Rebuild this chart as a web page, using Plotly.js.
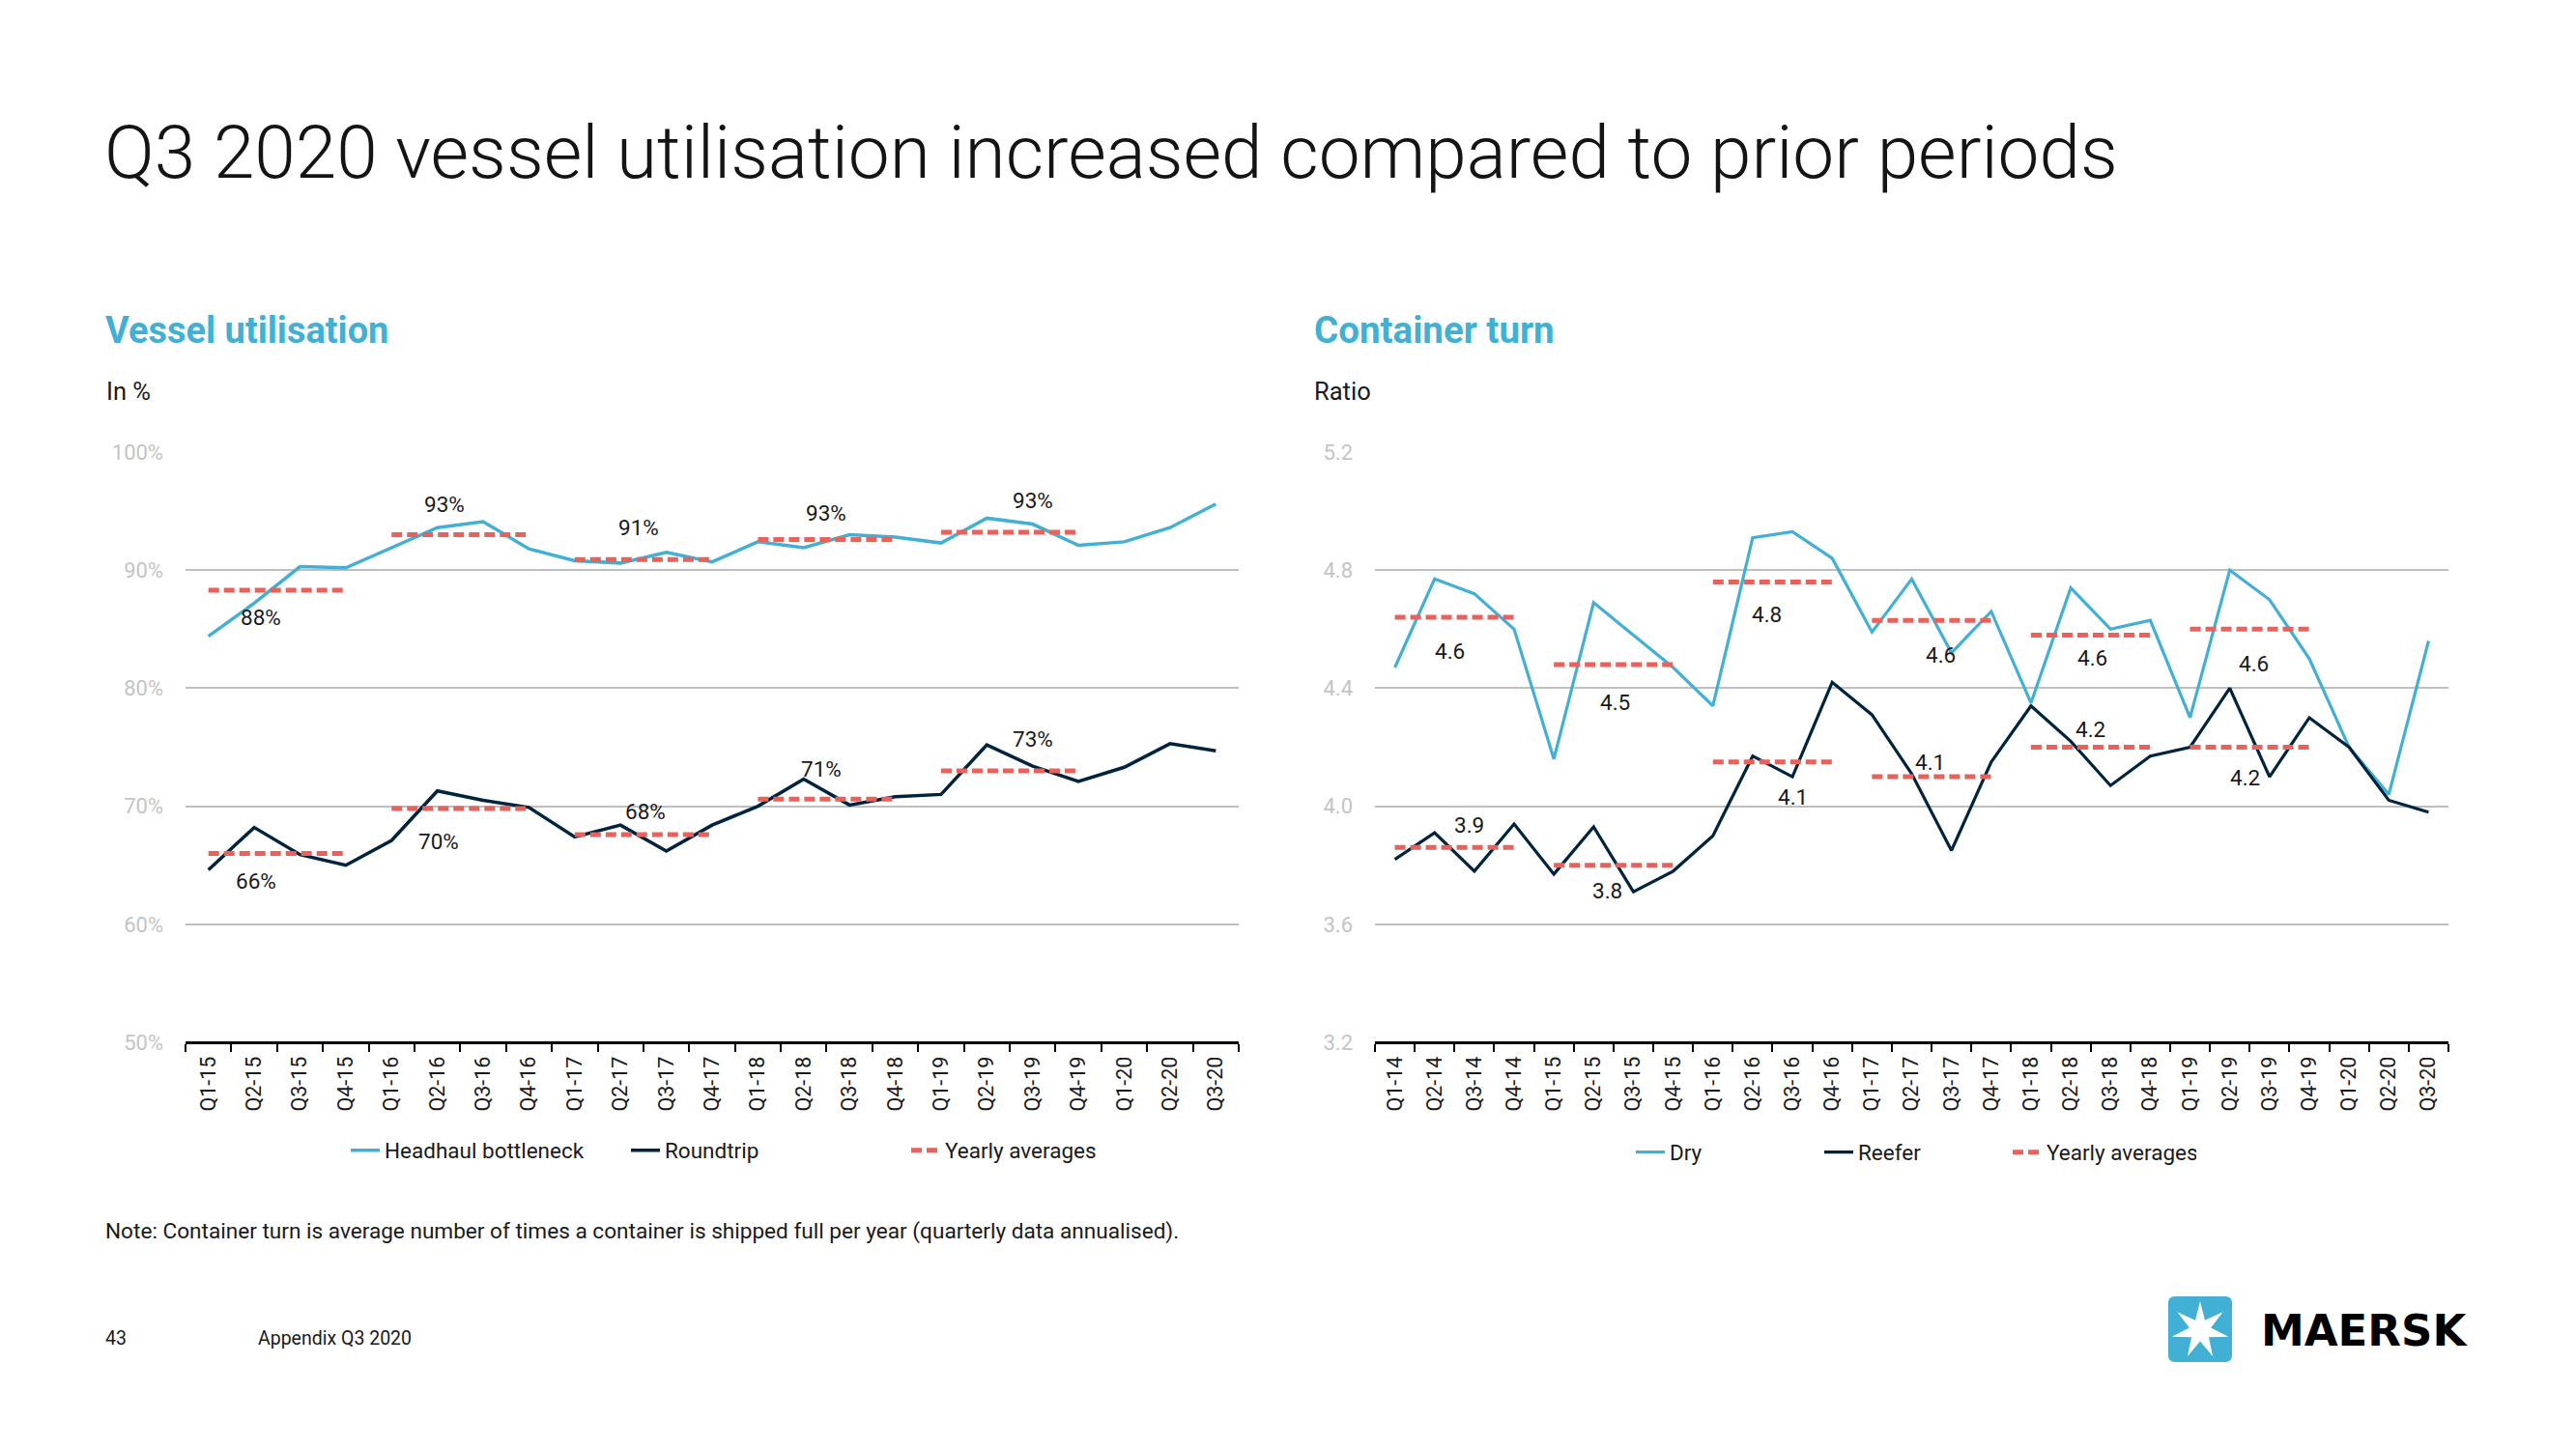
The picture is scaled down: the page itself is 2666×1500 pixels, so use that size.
<!DOCTYPE html>
<html>
<head>
<meta charset="utf-8">
<script src="https://cdn.plot.ly/plotly-3.0.1.min.js"></script>
<style>
html,body{margin:0;padding:0;background:#ffffff;}
#chart{width:2666px;height:1500px;}
</style>
</head>
<body>
<div id="chart"></div>
<script>
// ---------- DATA ----------
const vuQuarters = ['Q1-15','Q2-15','Q3-15','Q4-15','Q1-16','Q2-16','Q3-16','Q4-16','Q1-17','Q2-17','Q3-17','Q4-17','Q1-18','Q2-18','Q3-18','Q4-18','Q1-19','Q2-19','Q3-19','Q4-19','Q1-20','Q2-20','Q3-20'];
const headhaul = [84.4, 87.2, 90.3, 90.2, 91.9, 93.6, 94.1, 91.8, 90.8, 90.6, 91.5, 90.7, 92.4, 91.9, 93.0, 92.8, 92.3, 94.4, 93.9, 92.1, 92.4, 93.6, 95.6];
const roundtrip = [64.6, 68.2, 65.9, 65.0, 67.1, 71.3, 70.5, 69.9, 67.4, 68.4, 66.2, 68.4, 70.0, 72.3, 70.1, 70.8, 71.0, 75.2, 73.4, 72.1, 73.3, 75.3, 74.7];
const vuYears = ['15','16','17','18','19'];
const headhaulAvg = [88.3, 93.0, 90.9, 92.6, 93.2];
const roundtripAvg = [66.0, 69.8, 67.6, 70.6, 73.0];
const headhaulAvgLabels = ['88%','93%','91%','93%','93%'];
const roundtripAvgLabels = ['66%','70%','68%','71%','73%'];

const ctQuarters = ['Q1-14','Q2-14','Q3-14','Q4-14','Q1-15','Q2-15','Q3-15','Q4-15','Q1-16','Q2-16','Q3-16','Q4-16','Q1-17','Q2-17','Q3-17','Q4-17','Q1-18','Q2-18','Q3-18','Q4-18','Q1-19','Q2-19','Q3-19','Q4-19','Q1-20','Q2-20','Q3-20'];
const dry = [4.47, 4.77, 4.72, 4.60, 4.16, 4.69, 4.58, 4.47, 4.34, 4.91, 4.93, 4.84, 4.59, 4.77, 4.52, 4.66, 4.35, 4.74, 4.60, 4.63, 4.30, 4.80, 4.70, 4.50, 4.20, 4.04, 4.56];
const reefer = [3.82, 3.91, 3.78, 3.94, 3.77, 3.93, 3.71, 3.78, 3.90, 4.17, 4.10, 4.42, 4.31, 4.11, 3.85, 4.15, 4.34, 4.22, 4.07, 4.17, 4.20, 4.40, 4.10, 4.30, 4.20, 4.02, 3.98];
const ctYears = ['14','15','16','17','18','19'];
const dryAvg = [4.64, 4.48, 4.76, 4.63, 4.58, 4.60];
const reeferAvg = [3.86, 3.80, 4.15, 4.10, 4.20, 4.20];
const dryAvgLabels = ['4.6','4.5','4.8','4.6','4.6','4.6'];
const reeferAvgLabels = ['3.9','3.8','4.1','4.1','4.2','4.2'];

// ---------- STYLE ----------
const W = 2666, H = 1500;
const FONT = 'Roboto, "Open Sans", sans-serif';
const C_LIGHT = '#42b0d5', C_DARK = '#00243d', C_AVG = '#e8615a', C_GRID = '#bfbfbf';
const px = x => x / W;
const py = y => 1 - y / H;

// label offsets (px) relative to the centre of each yearly-average segment
const hhLabelOff = [[-17,-28],[-16,32],[-5,33],[0,27],[24,33]];
const rtLabelOff = [[-22,-29],[-22,-34],[2,24],[-5,31],[24,33]];
const dryLabelOff = [[-5,-35],[2,-39],[-6,-34],[9,-36],[2,-24],[4,-36]];
const rfLabelOff = [[15,23],[-6,-26],[21,-36],[-2,15],[0,19],[-5,-31]];

function avgTrace(quarters, years, avgs, xa, ya, name, showlegend, legend) {
  const x = [], y = [];
  years.forEach((yy, i) => {
    const s = quarters.indexOf('Q1-' + yy), e = quarters.indexOf('Q4-' + yy);
    x.push(quarters[s], quarters[e], quarters[e]);
    y.push(avgs[i], avgs[i], null);
  });
  return {x, y, xaxis: xa, yaxis: ya, type: 'scatter', mode: 'lines', name,
    showlegend, legend, connectgaps: false, hoverinfo: 'skip',
    line: {color: C_AVG, width: 5, dash: '11px,5px'}};
}

function avgLabels(quarters, years, avgs, labels, offs, xa, ya) {
  return years.map((yy, i) => {
    const s = quarters.indexOf('Q1-' + yy);
    return {xref: xa, yref: ya, x: s + 1.5, y: avgs[i], text: labels[i],
      showarrow: false, xshift: offs[i][0], yshift: offs[i][1],
      font: {family: FONT, size: 22.5, color: '#1a1a1a'}};
  });
}

const traces = [
  {x: vuQuarters, y: headhaul, type: 'scatter', mode: 'lines', name: 'Headhaul bottleneck',
   line: {color: C_LIGHT, width: 3.5}, xaxis: 'x', yaxis: 'y', legend: 'legend'},
  {x: vuQuarters, y: roundtrip, type: 'scatter', mode: 'lines', name: 'Roundtrip',
   line: {color: C_DARK, width: 3.5}, xaxis: 'x', yaxis: 'y', legend: 'legend'},
  avgTrace(vuQuarters, vuYears, headhaulAvg, 'x', 'y', 'Yearly averages', true, 'legend'),
  avgTrace(vuQuarters, vuYears, roundtripAvg, 'x', 'y', 'Yearly averages', false, 'legend'),
  {x: ctQuarters, y: dry, type: 'scatter', mode: 'lines', name: 'Dry',
   line: {color: C_LIGHT, width: 3.2}, xaxis: 'x2', yaxis: 'y2', legend: 'legend2'},
  {x: ctQuarters, y: reefer, type: 'scatter', mode: 'lines', name: 'Reefer',
   line: {color: C_DARK, width: 3.2}, xaxis: 'x2', yaxis: 'y2', legend: 'legend2'},
  avgTrace(ctQuarters, ctYears, dryAvg, 'x2', 'y2', 'Yearly averages', true, 'legend2'),
  avgTrace(ctQuarters, ctYears, reeferAvg, 'x2', 'y2', 'Yearly averages', false, 'legend2')
];

const xBase = {
  type: 'category', tickson: 'boundaries', ticks: 'outside', ticklen: 8, tickwidth: 2,
  tickcolor: '#000', showline: true, linecolor: '#000', linewidth: 3, showgrid: false,
  tickangle: -90, tickfont: {family: FONT, size: 21.5, color: '#1a1a1a'}, anchor: 'free',
  fixedrange: true, categoryorder: 'array', ticklabelstandoff: 4
};
const yBase = {
  showgrid: true, gridcolor: C_GRID, gridwidth: 2, zeroline: false, showline: false,
  ticks: '', tickfont: {family: FONT, size: 22, color: '#c4c4c4'}, ticklabelstandoff: 22,
  fixedrange: true
};
const yDom = [py(1079), py(468)];

// logo geometry (decoration)
function starPath(cx, cy, ro, ri, n) {
  let d = '';
  for (let k = 0; k < 2 * n; k++) {
    const r = k % 2 === 0 ? ro : ri;
    const a = -Math.PI / 2 + k * Math.PI / n;
    const X = px(cx + r * Math.cos(a)), Y = py(cy + r * Math.sin(a));
    d += (k === 0 ? 'M' : 'L') + X + ',' + Y;
  }
  return d + 'Z';
}
function roundRect(x0, y0, x1, y1, r) {
  return 'M' + px(x0 + r) + ',' + py(y0) + ' L' + px(x1 - r) + ',' + py(y0) +
    ' Q' + px(x1) + ',' + py(y0) + ' ' + px(x1) + ',' + py(y0 + r) +
    ' L' + px(x1) + ',' + py(y1 - r) +
    ' Q' + px(x1) + ',' + py(y1) + ' ' + px(x1 - r) + ',' + py(y1) +
    ' L' + px(x0 + r) + ',' + py(y1) +
    ' Q' + px(x0) + ',' + py(y1) + ' ' + px(x0) + ',' + py(y1 - r) +
    ' L' + px(x0) + ',' + py(y0 + r) +
    ' Q' + px(x0) + ',' + py(y0) + ' ' + px(x0 + r) + ',' + py(y0) + ' Z';
}

const textAnn = (x, y, text, size, color, extra) => Object.assign({
  xref: 'paper', yref: 'paper', x: px(x), y: py(y), xanchor: 'left', yanchor: 'middle',
  text, showarrow: false, font: {family: FONT, size, color}
}, extra || {});

const annotations = [
  textAnn(106, 158, 'Q3 2020 vessel utilisation increased compared to prior periods', 76.5, '#141414', {font: {family: FONT, size: 76.5, color: '#141414', weight: 300}}),
  textAnn(107, 342, '<b>Vessel utilisation</b>', 38, C_LIGHT),
  textAnn(1358, 342, '<b>Container turn</b>', 38.5, C_LIGHT),
  textAnn(108, 405, 'In %', 25.5, '#1a1a1a'),
  textAnn(1358, 405, 'Ratio', 25.5, '#1a1a1a'),
  textAnn(107, 1274, 'Note: Container turn is average number of times a container is shipped full per year (quarterly data annualised).', 22.6, '#1a1a1a'),
  textAnn(107, 1385, '43', 19.5, '#1a1a1a'),
  textAnn(265, 1385, 'Appendix Q3 2020', 19.5, '#1a1a1a'),
  textAnn(2338, 1377, '<b>MAERSK</b>', 45, '#000000', {font: {family: '"DejaVu Sans", sans-serif', size: 45, color: '#000', weight: 700}})
].concat(
  avgLabels(vuQuarters, vuYears, headhaulAvg, headhaulAvgLabels, hhLabelOff, 'x', 'y'),
  avgLabels(vuQuarters, vuYears, roundtripAvg, roundtripAvgLabels, rtLabelOff, 'x', 'y'),
  avgLabels(ctQuarters, ctYears, dryAvg, dryAvgLabels, dryLabelOff, 'x2', 'y2'),
  avgLabels(ctQuarters, ctYears, reeferAvg, reeferAvgLabels, rfLabelOff, 'x2', 'y2')
);

const legBase = {orientation: 'h', xanchor: 'left', yanchor: 'middle', bgcolor: 'rgba(0,0,0,0)',
  font: {family: FONT, size: 22.5, color: '#1a1a1a'}, itemwidth: 30, traceorder: 'normal',
  entrywidthmode: 'pixels'};

const layout = {
  width: W, height: H, margin: {l: 0, r: 0, t: 0, b: 0},
  paper_bgcolor: '#fff', plot_bgcolor: '#fff', hovermode: false,
  xaxis: Object.assign({}, xBase, {domain: [px(192), px(1282)], categoryarray: vuQuarters,
    range: [-0.5, vuQuarters.length - 0.5], position: yDom[0]}),
  yaxis: Object.assign({}, yBase, {domain: yDom, range: [50, 100], dtick: 10, tick0: 50, ticksuffix: '%', anchor: 'x'}),
  xaxis2: Object.assign({}, xBase, {domain: [px(1423), px(2534)], categoryarray: ctQuarters,
    range: [-0.5, ctQuarters.length - 0.5], position: yDom[0]}),
  yaxis2: Object.assign({}, yBase, {domain: yDom, range: [3.2, 5.2], dtick: 0.4, tick0: 3.2, tickformat: '.1f', anchor: 'x2'}),
  legend: Object.assign({}, legBase, {x: px(358), y: py(1191), entrywidth: 245}),
  legend2: Object.assign({}, legBase, {x: px(1688), y: py(1193), entrywidth: 150}),
  annotations,
  shapes: [
    {type: 'path', xref: 'paper', yref: 'paper', path: roundRect(2244, 1342, 2310, 1410, 7), fillcolor: C_LIGHT, line: {width: 0}},
    {type: 'path', xref: 'paper', yref: 'paper', path: starPath(2277, 1377, 30, 11.5, 7), fillcolor: '#ffffff', line: {width: 0}}
  ]
};

Plotly.newPlot('chart', traces, layout, {staticPlot: true, displayModeBar: false});
</script>
</body>
</html>
